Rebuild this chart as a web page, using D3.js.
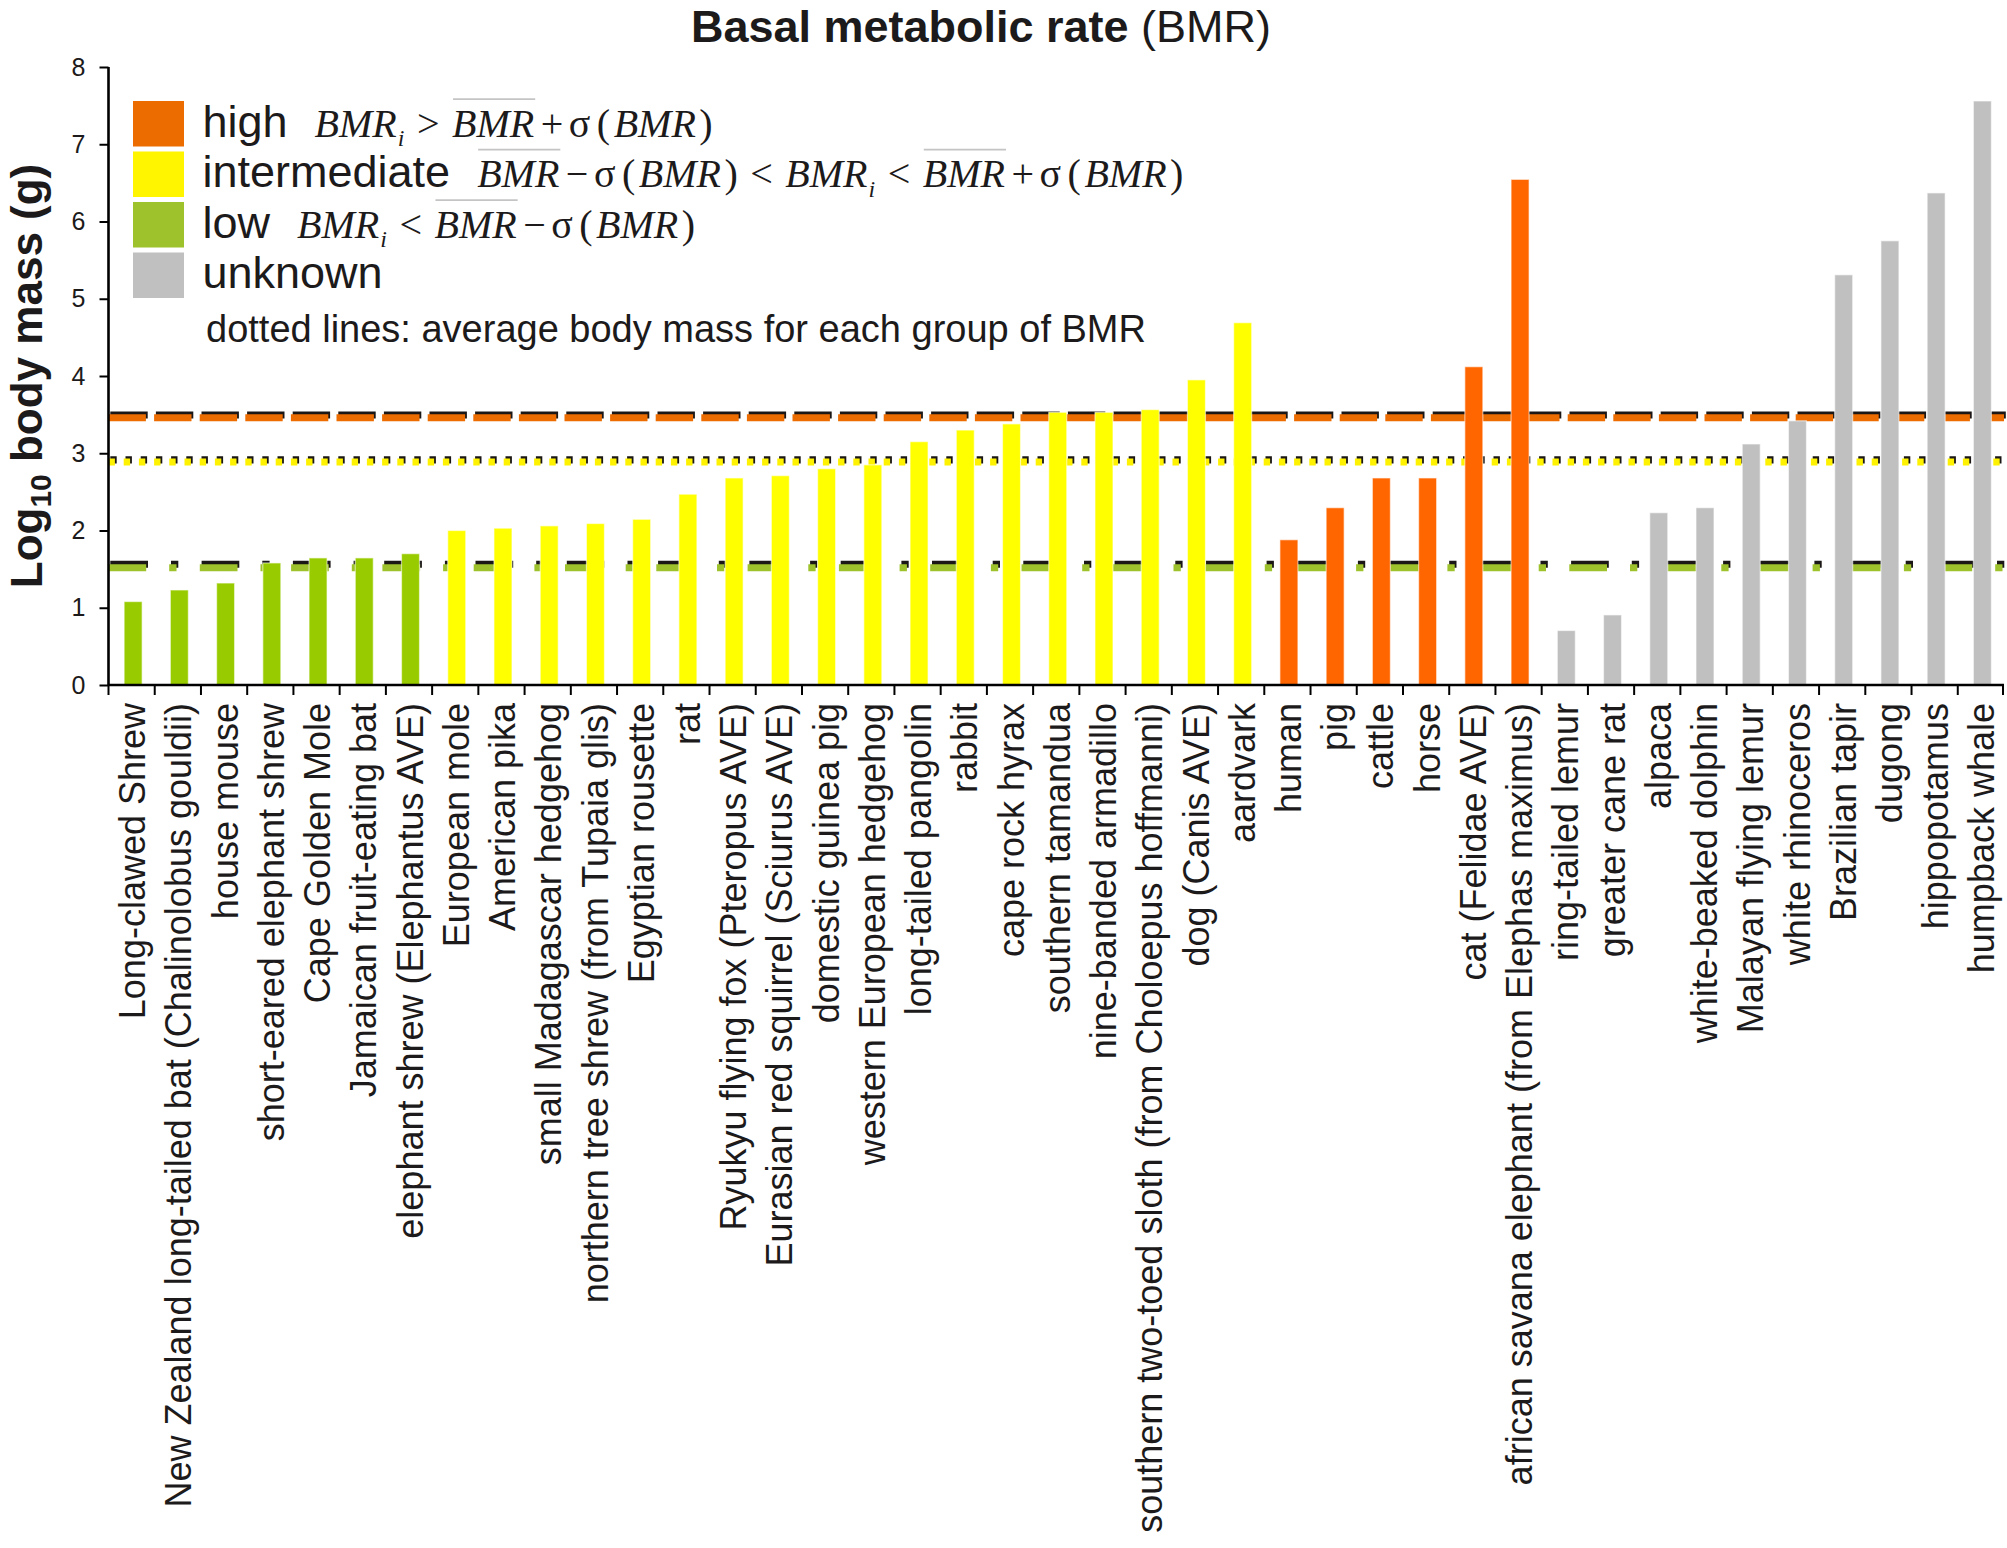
<!DOCTYPE html>
<html><head><meta charset="utf-8">
<script src="https://cdn.jsdelivr.net/npm/d3@7"></script>
<style>body{margin:0;background:#fff}</style>
</head><body>
<svg id="chart" width="2007" height="1548"></svg>
<script>
// ---------------- data ----------------
const categories = [
  "Long-clawed Shrew",
  "New Zealand long-tailed bat (Chalinolobus gouldii)",
  "house mouse",
  "short-eared elephant shrew",
  "Cape Golden Mole",
  "Jamaican fruit-eating bat",
  "elephant shrew (Elephantus AVE)",
  "European mole",
  "American pika",
  "small Madagascar hedgehog",
  "northern tree shrew (from Tupaia glis)",
  "Egyptian rousette",
  "rat",
  "Ryukyu flying fox (Pteropus AVE)",
  "Eurasian red squirrel (Sciurus AVE)",
  "domestic guinea pig",
  "western European hedgehog",
  "long-tailed pangolin",
  "rabbit",
  "cape rock hyrax",
  "southern tamandua",
  "nine-banded armadillo",
  "southern two-toed sloth (from Choloepus hoffmanni)",
  "dog (Canis AVE)",
  "aardvark",
  "human",
  "pig",
  "cattle",
  "horse",
  "cat (Felidae AVE)",
  "african savana elephant (from Elephas maximus)",
  "ring-tailed lemur",
  "greater cane rat",
  "alpaca",
  "white-beaked dolphin",
  "Malayan flying lemur",
  "white rhinoceros",
  "Brazilian tapir",
  "dugong",
  "hippopotamus",
  "humpback whale"
];
const groups = [
  "low","low","low","low","low","low","low",
  "intermediate","intermediate","intermediate","intermediate","intermediate","intermediate",
  "intermediate","intermediate","intermediate","intermediate","intermediate","intermediate",
  "intermediate","intermediate","intermediate","intermediate","intermediate","intermediate",
  "high","high","high","high","high","high",
  "unknown","unknown","unknown","unknown","unknown","unknown","unknown","unknown","unknown","unknown"
];
const log10Mass = [
  1.08, 1.23, 1.32, 1.58, 1.645, 1.645, 1.70,
  2.00, 2.03, 2.06, 2.09, 2.145, 2.47, 2.68, 2.71, 2.80, 2.85, 3.15, 3.30,
  3.38, 3.53, 3.53, 3.565, 3.95, 4.69,
  1.88, 2.295, 2.68, 2.68, 4.12, 6.545,
  0.705, 0.907, 2.23, 2.295, 3.12, 3.42, 5.31, 5.75, 6.37, 7.56
];
const yTicks = [0,1,2,3,4,5,6,7,8];
const meanGroups = ["high","intermediate","low"];
const meanValues = [3.46, 2.887, 1.518];
const legendKeys = ["high","intermediate","low","unknown"];
const legendNote = "dotted lines: average body mass for each group of BMR";
const titleBold = "Basal metabolic rate";
const titleRest = " (BMR)";

// formula tokens (text only)
const B = {t:"BMR", it:true};
const BB = {t:"BMR", it:true, bar:true};
const SUBI = {t:"i", it:true, sub:true};
const op = s => ({t:s, op:true});
const rel = s => ({t:s, rel:true});
const SIG = {t:"σ", sig:true};
const LP = {t:"(", lp:true};
const RP = {t:")", rp:true};
const formulas = {
  high: [B, SUBI, rel(">"), BB, op("+"), SIG, LP, B, RP],
  intermediate: [BB, op("−"), SIG, LP, B, RP, rel("<"), B, SUBI, rel("<"), BB, op("+"), SIG, LP, B, RP],
  low: [B, SUBI, rel("<"), BB, op("−"), SIG, LP, B, RP],
  unknown: []
};

// ---------------- styles ----------------
const barColor = {low:"#99CC00", intermediate:"#FFFF00", high:"#FF6600", unknown:"#C0C0C0"};
const legendColor = {high:"#EC6C00", intermediate:"#FFF500", low:"#9DC22B", unknown:"#C0C0C0"};
const lineStyle = {
  high:{color:"#EC6C00", dash:"37.4 8.2", width:7, dx:1.8, dy:-2.7},
  intermediate:{color:"#FFF200", dash:"6.4 8.8", width:7.2, dx:1.8, dy:-2.2},
  low:{color:"#9DC22B", dash:"37.7 23 7.3 23.3", width:7, dx:1.8, dy:-3.5}
};
const SANS = "'Liberation Sans', Arial, Helvetica, sans-serif";
const SERIF = "'Liberation Serif', 'Times New Roman', serif";
const INK = "#1c1a1a";

const svg = d3.select("#chart");
const X0 = 108.5, X1 = 2004, Y0 = 685, Y8 = 67;

const x = d3.scaleBand().domain(categories).range([X0, X1]).padding(0);
const y = d3.scaleLinear().domain([0, 8]).range([Y0, Y8]);
const step = x.step();
const barW = 18;

// mean lines (black shadow + coloured line), drawn below the bars
const lg = svg.append("g");
meanGroups.forEach((gname, i) => {
  const s = lineStyle[gname];
  const yy = y(meanValues[i]);
  lg.append("line").attr("x1", X0 + s.dx).attr("x2", X1 + s.dx)
    .attr("y1", yy + s.dy).attr("y2", yy + s.dy)
    .attr("stroke", "#1a1716").attr("stroke-width", s.width).attr("stroke-dasharray", s.dash);
  lg.append("line").attr("x1", X0).attr("x2", X1)
    .attr("y1", yy).attr("y2", yy)
    .attr("stroke", s.color).attr("stroke-width", s.width).attr("stroke-dasharray", s.dash);
});

// bars
svg.append("g").selectAll("rect").data(categories).join("rect")
  .attr("x", (d) => x(d) + step/2 - barW/2 + 1.5)
  .attr("width", barW)
  .attr("y", (d,i) => y(log10Mass[i]))
  .attr("height", (d,i) => y(0) - y(log10Mass[i]))
  .attr("fill", (d,i) => barColor[groups[i]])
  .attr("stroke", "#ffffff").attr("stroke-opacity", 0.55).attr("stroke-width", 1.2);

// y axis
const yAxis = svg.append("g").attr("transform", `translate(${X0},0)`)
  .call(d3.axisLeft(y).tickValues(yTicks).tickSize(9).tickPadding(14).tickFormat(d3.format("d")));
yAxis.select(".domain").attr("stroke", "#000").attr("stroke-width", 2.6).attr("d", `M0,${Y0}V${Y8}`);
yAxis.selectAll(".tick line").attr("stroke", "#000").attr("stroke-width", 2);
yAxis.selectAll(".tick text").style("font-family", SANS).style("font-size", "25px").attr("fill", INK);

// x axis line and boundary ticks
const xg = svg.append("g");
xg.append("line").attr("x1", X0).attr("x2", X1).attr("y1", Y0).attr("y2", Y0)
  .attr("stroke", "#000").attr("stroke-width", 2.6);
const bounds = categories.map(c => x(c)).concat([X1 - 1]);
xg.selectAll("line.tk").data(bounds).join("line").attr("class", "tk")
  .attr("x1", d => d).attr("x2", d => d).attr("y1", Y0).attr("y2", Y0 + 10)
  .attr("stroke", "#000").attr("stroke-width", 2);
xg.selectAll("text.lbl").data(categories).join("text").attr("class", "lbl")
  .attr("transform", d => `translate(${x(d) + step/2 + 1},${Y0 + 18}) rotate(-90)`)
  .attr("text-anchor", "end").attr("dy", "0.35em")
  .style("font-family", SANS).style("font-size", "36px").attr("fill", INK)
  .text(d => d);

// y axis title
const yt = svg.append("text")
  .attr("transform", `translate(42,${(Y0 + Y8)/2}) rotate(-90)`)
  .attr("text-anchor", "middle")
  .style("font-family", SANS).style("font-size", "44px").style("font-weight", "bold").attr("fill", INK);
yt.append("tspan").text("Log");
yt.append("tspan").attr("dy", 8.5).style("font-size", "30px").text("10");
yt.append("tspan").attr("dy", -8.5).text(" body mass (g)");

// title
const tt = svg.append("text").attr("x", 981).attr("y", 42).attr("text-anchor", "middle")
  .style("font-family", SANS).style("font-size", "45px").attr("fill", INK);
tt.append("tspan").style("font-weight", "bold").text(titleBold);
tt.append("tspan").text(titleRest);

// legend
const leg = svg.append("g");
function drawFormula(g, tokens, x0, base) {
  let cx = x0;
  tokens.forEach(tok => {
    let gb = 0, ga = 0;
    if (tok.rel) { gb = 12.5; ga = 12.5; }
    else if (tok.op) { gb = 6.5; ga = 5.5; }
    else if (tok.sig) { ga = 6.5; }
    else if (tok.lp) { ga = 3.5; }
    else if (tok.rp) { gb = 3.5; }
    else if (tok.sub) { gb = 1; }
    cx += gb;
    const t = g.append("text").attr("x", cx).attr("y", base + (tok.sub ? 9.5 : 0))
      .style("font-family", SERIF).style("font-size", tok.sub ? "24px" : "40px")
      .style("font-style", tok.it ? "italic" : "normal").attr("fill", INK).text(tok.t);
    const w = t.node().getComputedTextLength();
    if (tok.bar) {
      g.append("line").attr("x1", cx + 1).attr("x2", cx + w + 1)
        .attr("y1", base - 37.5).attr("y2", base - 37.5)
        .attr("stroke", "#c4c4c4").attr("stroke-width", 1.8);
    }
    cx += w + ga;
  });
}
legendKeys.forEach((k, i) => {
  const top = 101 + i * 50.5;
  leg.append("rect").attr("x", 133).attr("y", top).attr("width", 51).attr("height", 45.5)
    .attr("fill", legendColor[k]);
  const base = 136.7 + i * 50.5;
  const t = leg.append("text").attr("x", 202.5).attr("y", base)
    .style("font-family", SANS).style("font-size", "45px").attr("fill", INK).text(k);
  const w = t.node().getComputedTextLength();
  drawFormula(leg, formulas[k], 202.5 + w + 27, base);
});
leg.append("text").attr("x", 206).attr("y", 341.7)
  .style("font-family", SANS).style("font-size", "38px").attr("fill", INK).text(legendNote);
</script>
</body></html>
